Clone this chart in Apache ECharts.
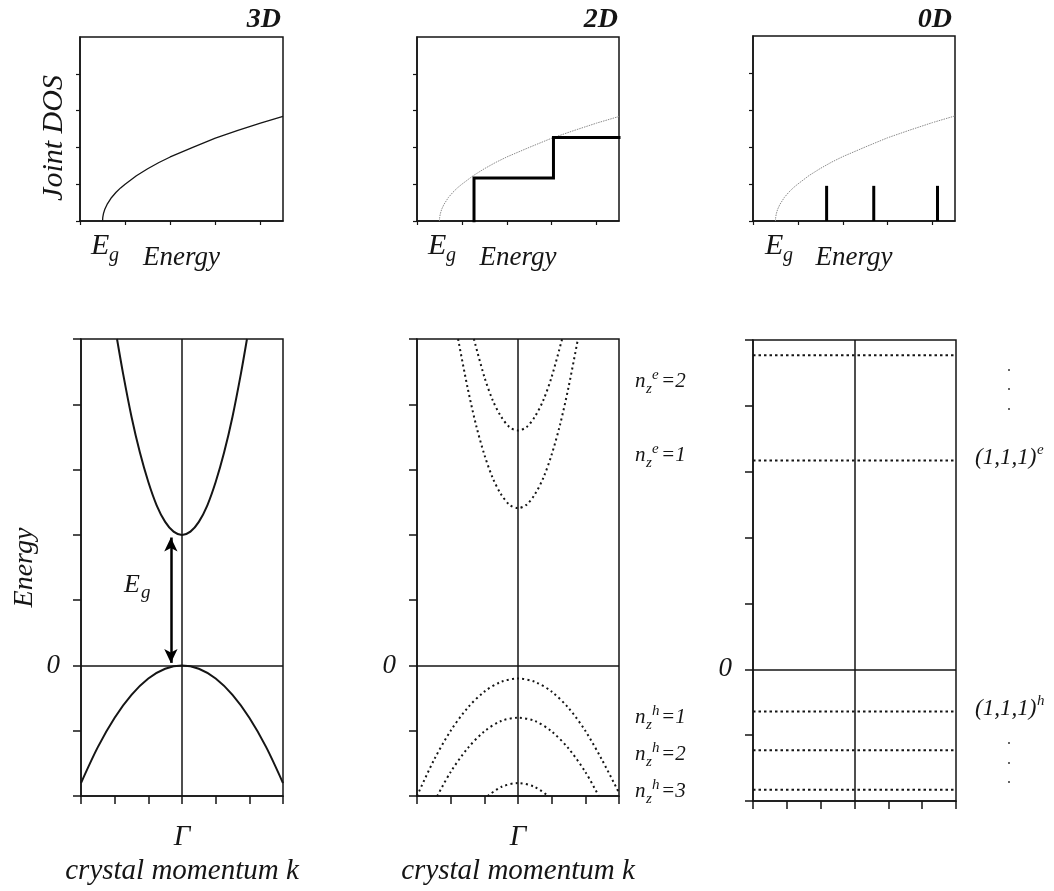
<!DOCTYPE html>
<html>
<head>
<meta charset="utf-8">
<script src="https://cdn.jsdelivr.net/npm/echarts@6/dist/echarts.min.js"></script>
<style>
  html, body { margin: 0; padding: 0; background: #fff; }
  #chart { width: 1054px; height: 891px; }
</style>
</head>
<body>
<div id="chart"></div>
<script>
// ---- Joint density of states (top row) ----
const jdosEnergy = [0.5, 0.505, 0.52, 0.55, 0.6, 0.7, 0.8, 0.9, 1.0, 1.25, 1.5, 1.75, 2.0, 2.5, 3.0, 3.5, 4.0, 4.5];
const jdosValue  = [0, 0.1, 0.2, 0.32, 0.45, 0.64, 0.78, 0.9, 1.0, 1.23, 1.42, 1.59, 1.74, 2.0, 2.25, 2.46, 2.66, 2.84];
// quantum well: staircase
const stepEnergy = [1.27, 1.27, 3.04, 3.04, 4.5];
const stepValue  = [0, 1.17, 1.17, 2.27, 2.27];
// quantum dot: discrete peaks
const peakEnergy = [1.64, 2.69, 4.11];
const peakValue  = [0.95, 0.95, 0.95];

// ---- Band structure (bottom row) ----
// bulk conduction and valence bands
const cbK = [-1.93, -1.75, -1.5, -1.25, -1, -0.75, -0.5, -0.25, 0, 0.25, 0.5, 0.75, 1, 1.25, 1.5, 1.75, 1.93];
const cbE = [5.0, 4.47, 3.81, 3.26, 2.81, 2.45, 2.2, 2.05, 2.0, 2.05, 2.2, 2.45, 2.81, 3.26, 3.81, 4.47, 5.0];
const vbK = [-3, -2.5, -2, -1.5, -1, -0.5, 0, 0.5, 1, 1.5, 2, 2.5, 3];
const vbE = [-1.8, -1.25, -0.8, -0.45, -0.2, -0.05, 0, -0.05, -0.2, -0.45, -0.8, -1.25, -1.8];
// band gap arrow
const gapK = -0.33;
const gapFrom = 0.04;
const gapTo = 1.96;
// quantum well subbands
const e1K = [-1.78, -1.5, -1.25, -1, -0.75, -0.5, -0.25, 0, 0.25, 0.5, 0.75, 1, 1.25, 1.5, 1.78];
const e1E = [5.0, 4.26, 3.69, 3.23, 2.87, 2.62, 2.46, 2.41, 2.46, 2.62, 2.87, 3.23, 3.69, 4.26, 5.0];
const e2K = [-1.31, -1, -0.75, -0.5, -0.25, 0, 0.25, 0.5, 0.75, 1, 1.31];
const e2E = [5.0, 4.42, 4.06, 3.81, 3.65, 3.6, 3.65, 3.81, 4.06, 4.42, 5.0];
const h1K = [-3, -2.5, -2, -1.5, -1, -0.5, 0, 0.5, 1, 1.5, 2, 2.5, 3];
const h1E = [-2.0, -1.45, -1.0, -0.65, -0.4, -0.25, -0.2, -0.25, -0.4, -0.65, -1.0, -1.45, -1.95];
const h2K = [-2.4, -2, -1.5, -1, -0.5, 0, 0.5, 1, 1.5, 2, 2.4];
const h2E = [-2.0, -1.63, -1.27, -1.01, -0.85, -0.8, -0.85, -1.01, -1.27, -1.63, -2.0];
const h3K = [-0.9, -0.5, 0, 0.5, 0.9];
const h3E = [-2.0, -1.86, -1.8, -1.86, -2.0];
// quantum dot levels
const dotLevels = [4.77, 3.17, -0.64, -1.23, -1.83];

// axis ticks
const dosTicksX = [0, 1, 2, 3, 4];
const dosTicksY = [0, 1, 2, 3, 4];
const bandTicksK = [-3, -2, -1, 0, 1, 2, 3];
const bandTicksE = [-2, -1, 0, 1, 2, 3, 4, 5];
const panelTitles = ['3D', '2D', '0D'];

const SERIF = '"Liberation Serif", "DejaVu Serif", serif';
const INK = '#151515';
const zip = (a, b) => a.map((v, i) => [v, b[i]]);

const chart = echarts.init(document.getElementById('chart'), null, { renderer: 'canvas' });

const topGrids = [
  { left: 80, top: 37, width: 203, height: 184 },
  { left: 417, top: 37, width: 202, height: 184 },
  { left: 753, top: 36, width: 202, height: 185 }
];
const botGrids = [
  { left: 81, top: 339, width: 202, height: 461 },
  { left: 417, top: 339, width: 202, height: 461 },
  { left: 753, top: 340, width: 203, height: 461 }
];
const grid = topGrids.concat(botGrids).map(g => Object.assign({
  show: true, borderColor: INK, borderWidth: 1.5, backgroundColor: 'transparent', containLabel: false
}, g));

const axisLine = { show: true, onZero: false, lineStyle: { color: INK, width: 1.5 } };
const nameStyle = { fontFamily: SERIF, fontStyle: 'italic', fontSize: 27, color: INK };

const xAxis = [];
const yAxis = [];
for (let i = 0; i < 3; i++) {
  xAxis.push({
    gridIndex: i, type: 'value', min: 0, max: 4.5,
    axisLine, splitLine: { show: false },
    axisTick: { show: true, inside: false, length: 4, customValues: dosTicksX, lineStyle: { color: INK, width: 1.2 } },
    axisLabel: { show: false },
    name: 'Energy', nameLocation: 'middle', nameGap: 23, nameTextStyle: nameStyle
  });
  yAxis.push({
    gridIndex: i, type: 'value', min: 0, max: 5,
    axisLine, splitLine: { show: false },
    axisTick: { show: true, inside: false, length: 4, customValues: dosTicksY, lineStyle: { color: INK, width: 1.2 } },
    axisLabel: { show: false }
  });
}
for (let i = 0; i < 3; i++) {
  xAxis.push({
    gridIndex: 3 + i, type: 'value', min: -3, max: 3,
    axisLine, splitLine: { show: false },
    axisTick: { show: true, inside: false, length: 8, customValues: bandTicksK, lineStyle: { color: INK, width: 1.5 } },
    axisLabel: {
      show: i < 2, customValues: [0], margin: 27,
      formatter: v => (v === 0 ? 'Γ' : ''),
      fontFamily: SERIF, fontStyle: 'italic', fontSize: 29, color: INK
    },
    name: i < 2 ? 'crystal momentum k' : '', nameLocation: 'middle', nameGap: 58,
    nameTextStyle: Object.assign({}, nameStyle, { fontSize: 29 })
  });
  yAxis.push({
    gridIndex: 3 + i, type: 'value', min: -2, max: 5,
    axisLine, splitLine: { show: false },
    axisTick: { show: true, inside: false, length: 8, customValues: bandTicksE, lineStyle: { color: INK, width: 1.5 } },
    axisLabel: {
      show: true, customValues: [0], margin: 21,
      formatter: v => (v === 0 ? '0' : ''),
      fontFamily: SERIF, fontStyle: 'italic', fontSize: 27, color: INK
    },
    name: i === 0 ? 'Energy' : '', nameLocation: 'middle', nameGap: 42, nameRotate: 90,
    nameTextStyle: Object.assign({}, nameStyle, { fontSize: 28 })
  });
}

const series = [];
const lineBase = { type: 'line', showSymbol: false, symbol: 'none', silent: true, animation: false, clip: true };

// guide lines at k = 0 and E = 0 in every band panel
const centerLines = {
  silent: true, symbol: 'none', animation: false,
  label: { show: false },
  lineStyle: { color: INK, width: 1.5, type: 'solid' },
  data: [{ xAxis: 0 }, { yAxis: 0 }]
};

// top row
series.push(Object.assign({}, lineBase, {
  name: 'JDOS 3D', xAxisIndex: 0, yAxisIndex: 0, data: zip(jdosEnergy, jdosValue),
  lineStyle: { color: INK, width: 1.3 }
}));
series.push(Object.assign({}, lineBase, {
  name: 'JDOS bulk ref 2D', xAxisIndex: 1, yAxisIndex: 1, data: zip(jdosEnergy, jdosValue),
  lineStyle: { color: '#8a8a8a', width: 1, type: [1.5, 1] }
}));
series.push(Object.assign({}, lineBase, {
  name: 'JDOS 2D', xAxisIndex: 1, yAxisIndex: 1, data: zip(stepEnergy, stepValue),
  lineStyle: { color: '#000', width: 3, join: 'miter', cap: 'square' }
}));
series.push(Object.assign({}, lineBase, {
  name: 'JDOS bulk ref 0D', xAxisIndex: 2, yAxisIndex: 2, data: zip(jdosEnergy, jdosValue),
  lineStyle: { color: '#8a8a8a', width: 1, type: [1.5, 1] }
}));
series.push({
  name: 'JDOS 0D', type: 'bar', xAxisIndex: 2, yAxisIndex: 2, silent: true, animation: false,
  barWidth: 3, itemStyle: { color: '#000' }, data: zip(peakEnergy, peakValue)
});

// bottom row: bulk
series.push(Object.assign({}, lineBase, {
  name: 'conduction band', xAxisIndex: 3, yAxisIndex: 3, data: zip(cbK, cbE),
  smooth: 0.3, lineStyle: { color: INK, width: 2 }, markLine: centerLines
}));
series.push(Object.assign({}, lineBase, {
  name: 'valence band', xAxisIndex: 3, yAxisIndex: 3, data: zip(vbK, vbE),
  smooth: 0.3, lineStyle: { color: INK, width: 2 },
  markLine: {
    silent: true, animation: false, symbol: ['arrow', 'arrow'], symbolSize: [10, 14],
    label: { show: false },
    lineStyle: { color: '#000', width: 2.5, type: 'solid' },
    data: [[{ coord: [gapK, gapFrom] }, { coord: [gapK, gapTo] }]]
  }
}));

// bottom row: quantum well
const dotted = { color: INK, width: 2, type: [2, 3.2] };
[[e1K, e1E], [e2K, e2E], [h1K, h1E], [h2K, h2E], [h3K, h3E]].forEach((b, i) => {
  series.push(Object.assign({}, lineBase, {
    name: 'subband ' + i, xAxisIndex: 4, yAxisIndex: 4, data: zip(b[0], b[1]),
    smooth: 0.3, lineStyle: dotted, markLine: i === 0 ? centerLines : undefined
  }));
});

// bottom row: quantum dot
dotLevels.forEach((E, i) => {
  series.push(Object.assign({}, lineBase, {
    name: 'level ' + i, xAxisIndex: 5, yAxisIndex: 5, data: [[-3, E], [3, E]],
    lineStyle: { color: INK, width: 2, type: [2.5, 3] }, markLine: i === 0 ? centerLines : undefined
  }));
});

// text annotations
function T(x, y, text, size, extra) {
  return {
    type: 'text', x: x, y: y, silent: true,
    style: Object.assign({
      text: text, fill: INK, align: 'left', verticalAlign: 'middle',
      font: 'italic ' + size + 'px ' + SERIF
    }, extra || {})
  };
}
const graphics = [];
// panel titles
[281, 618, 952].forEach((xr, i) => {
  graphics.push(T(xr, 20, panelTitles[i], 28, { align: 'right', font: 'italic bold 28px ' + SERIF }));
});
// vertical label of the top-left panel
graphics.push(Object.assign(T(54, 138, 'Joint DOS', 30, { align: 'center' }), { rotation: Math.PI / 2 }));
// E_g below the joint-DOS energy axes
[91, 428, 765].forEach(x0 => {
  graphics.push(T(x0, 246, 'E', 30));
  graphics.push(T(x0 + 18, 256, 'g', 20));
});
// E_g next to the gap arrow
graphics.push(T(124, 585, 'E', 26));
graphics.push(T(141, 593, 'g', 19));
// subband labels
function nz(y, sup, val) {
  graphics.push(T(635, y, 'n', 21));
  graphics.push(T(646, y + 8, 'z', 15));
  graphics.push(T(652, y - 6, sup, 15));
  graphics.push(T(661, y, '=' + val, 21));
}
nz(381, 'e', '2');
nz(455, 'e', '1');
nz(717, 'h', '1');
nz(754, 'h', '2');
nz(791, 'h', '3');
// quantum dot state labels
graphics.push(T(975, 458, '(1,1,1)', 23));
graphics.push(T(1037, 450, 'e', 15));
graphics.push(T(975, 709, '(1,1,1)', 23));
graphics.push(T(1037, 701, 'h', 15));
[370, 389, 409, 743, 763, 782].forEach(y => {
  graphics.push({ type: 'circle', silent: true, shape: { cx: 1009, cy: y, r: 1 }, style: { fill: '#333' } });
});

chart.setOption({
  animation: false,
  backgroundColor: '#ffffff',
  grid: grid,
  xAxis: xAxis,
  yAxis: yAxis,
  series: series,
  graphic: { elements: graphics }
});
</script>
</body>
</html>
